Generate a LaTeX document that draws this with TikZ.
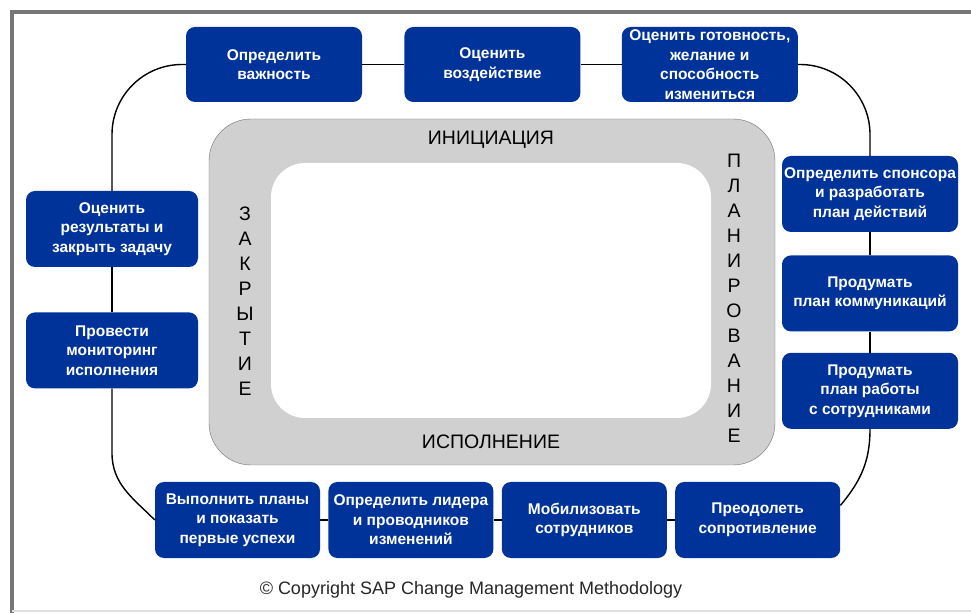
\documentclass[tikz,border=0pt]{standalone}
\usepackage{fontspec}
\setmainfont{Liberation Sans}
\usetikzlibrary{positioning}
\definecolor{sapblue}{RGB}{0,51,153}
\definecolor{ringgray}{RGB}{208,208,208}
\definecolor{framegray}{RGB}{118,118,118}

\begin{document}
\begin{tikzpicture}[x=1pt, y=1pt,
    task/.style={rectangle, rounded corners=9pt, fill=sapblue, text=white,
        font=\bfseries\fontsize{15.5}{19.5}\selectfont, align=center,
        minimum width=176pt, minimum height=75pt, inner sep=1pt},
    link/.style={draw=black, line width=1.4pt},
    phase/.style={font=\fontsize{19.5}{25}\selectfont, align=center, text=black}]
        \useasboundingbox (0,0) rectangle (971,613);
        \draw[framegray, line width=4pt] (10,601) -- (971,601) (12,603) -- (12,0);
        \draw[black!12, line width=1.5pt] (12,2) -- (971,2);

        \filldraw[fill=ringgray, draw=black!55, rounded corners=42pt] (209,148) rectangle (775,494);
        \fill[white, rounded corners=34pt] (271,195) rectangle (711,450);
        \node[phase] (init) at (491,473) {ИНИЦИАЦИЯ};
        \node[phase] (exec) at (491,171) {ИСПОЛНЕНИЕ};
        \node[phase] (close) at (245,312) {З\\А\\К\\Р\\Ы\\Т\\И\\Е};
        \node[phase] (plan) at (734,314.5) {П\\Л\\А\\Н\\И\\Р\\О\\В\\А\\Н\\И\\Е};

        \node[task] (b1) at (274,548.5) {Определить\\важность};
        \node[task, right=42pt of b1] (b2) {Оценить\\воздействие};
        \node[task, right=41pt of b2] (b3) {Оценить готовность,\\желание и\\способность\\измениться};

        \node[task, minimum height=76pt] (r1) at (870,419) {Определить спонсора\\и разработать\\план действий};
        \node[task, minimum height=76pt, below=23pt of r1] (r2) {Продумать\\план коммуникаций};
        \node[task, minimum height=76pt, below=21pt of r2] (r3) {Продумать\\план работы\\с сотрудниками};

        \node[task, minimum width=172pt, minimum height=76pt] (l1) at (112,384) {Оценить\\результаты и\\закрыть задачу};
        \node[task, minimum width=172pt, minimum height=76pt, below=45pt of l1] (l2) {Провести\\мониторинг\\исполнения};

        \node[task, minimum width=165pt, minimum height=76pt] (d1) at (237.5,93) {Выполнить планы\\и показать\\первые успехи};
        \node[task, minimum width=165pt, minimum height=76pt, right=8pt of d1] (d2) {Определить лидера\\и проводников\\изменений};
        \node[task, minimum width=165pt, minimum height=76pt, right=8pt of d2] (d3) {Мобилизовать\\сотрудников};
        \node[task, minimum width=165pt, minimum height=76pt, right=8pt of d3] (d4) {Преодолеть\\сопротивление};

        \coordinate (lbend) at (112,160);

        \draw[link] (b1) -- (b2) (b2) -- (b3);
        \draw[link, rounded corners=70pt] (b3.east) -| (r1.north);
        \draw[link] (r1) -- (r2) (r2) -- (r3);
        \draw[link] (r3.south) to[out=-90, in=50] (d4.10);
        \draw[link] (d4) -- (d3) (d3) -- (d2) (d2) -- (d1);
        \draw[link] (l2.south) -- (lbend) to[out=-90, in=135] (d1.west);
        \draw[link] (l2) -- (l1);
        \draw[link, rounded corners=70pt] (l1.north) |- (b1.west);

        \node[font=\fontsize{18}{22}\selectfont, text=black!85] (copy) at (471,23) {© Copyright SAP Change Management Methodology};
\end{tikzpicture}
\end{document}
